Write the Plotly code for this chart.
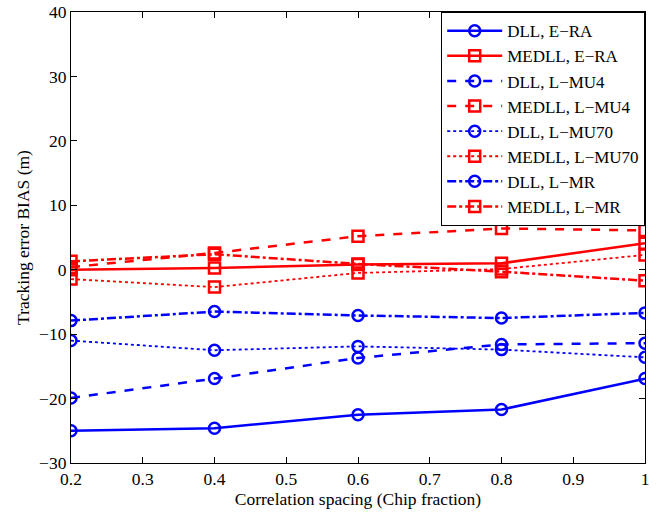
import plotly.graph_objects as go

x = [0.2, 0.4, 0.6, 0.8, 1.0]

dll_era = [-25.0, -24.6, -22.5, -21.7, -16.9]
medll_era = [0.0, 0.26, 0.8, 1.0, 4.1]
dll_lmu4 = [-19.9, -16.9, -13.7, -11.6, -11.4]
medll_lmu4 = [0.4, 2.6, 5.2, 6.4, 6.1]
dll_lmu70 = [-11.0, -12.5, -11.9, -12.4, -13.6]
medll_lmu70 = [-1.45, -2.7, -0.5, 0.1, 2.3]
dll_lmr = [-7.9, -6.5, -7.1, -7.5, -6.7]
medll_lmr = [1.3, 2.4, 0.9, -0.3, -1.7]

names = ["DLL, E−RA", "MEDLL, E−RA", "DLL, L−MU4", "MEDLL, L−MU4",
         "DLL, L−MU70", "MEDLL, L−MU70", "DLL, L−MR", "MEDLL, L−MR"]
series = [dll_era, medll_era, dll_lmu4, medll_lmu4, dll_lmu70, medll_lmu70, dll_lmr, medll_lmr]
colors = ["#0000ff", "#ff0000"] * 4
symbols = ["circle-open", "square-open"] * 4
dashes = ["solid", "solid", "dash", "dash", "dot", "dot", "dashdot", "dashdot"]

fig = go.Figure()
for name, y, c, s, d in zip(names, series, colors, symbols, dashes):
    fig.add_trace(go.Scatter(
        x=x, y=y, name=name, mode="lines+markers",
        line=dict(color=c, width=2.5 if d != "dot" else 1.8, dash=d),
        marker=dict(symbol=s, size=11, color=c, line=dict(width=2.5, color=c)),
    ))

font = dict(family="Liberation Serif, Times New Roman, serif", size=17.5, color="black")
axis_common = dict(showgrid=False, zeroline=False, showline=True, linecolor="black",
                   linewidth=1.2, mirror="ticks", ticks="inside", ticklen=6,
                   tickcolor="black", tickfont=font, ticklabeloverflow="allow",
                   automargin=False)

fig.update_layout(
    width=664, height=515,
    margin=dict(l=71, r=19, t=12, b=52, autoexpand=False),
    plot_bgcolor="white", paper_bgcolor="white",
    font=font,
    xaxis=dict(range=[0.2, 1.0], dtick=0.1, tick0=0.2,
               title=dict(text="Correlation spacing (Chip fraction)", font=font, standoff=2),
               **axis_common),
    yaxis=dict(range=[-30, 40], dtick=10,
               title=dict(text="Tracking error BIAS (m)", font=font, standoff=4),
               **axis_common),
    legend=dict(x=1, y=1, xanchor="right", yanchor="top",
                bgcolor="white", bordercolor="black", borderwidth=1.2,
                itemwidth=55,
                font=dict(family=font["family"], size=17, color="black"), tracegroupgap=0),
    showlegend=True,
)

fig.write_html("out.html", config={"displayModeBar": False},
               post_script="document.body.style.margin='0';document.body.style.overflow='hidden';")
